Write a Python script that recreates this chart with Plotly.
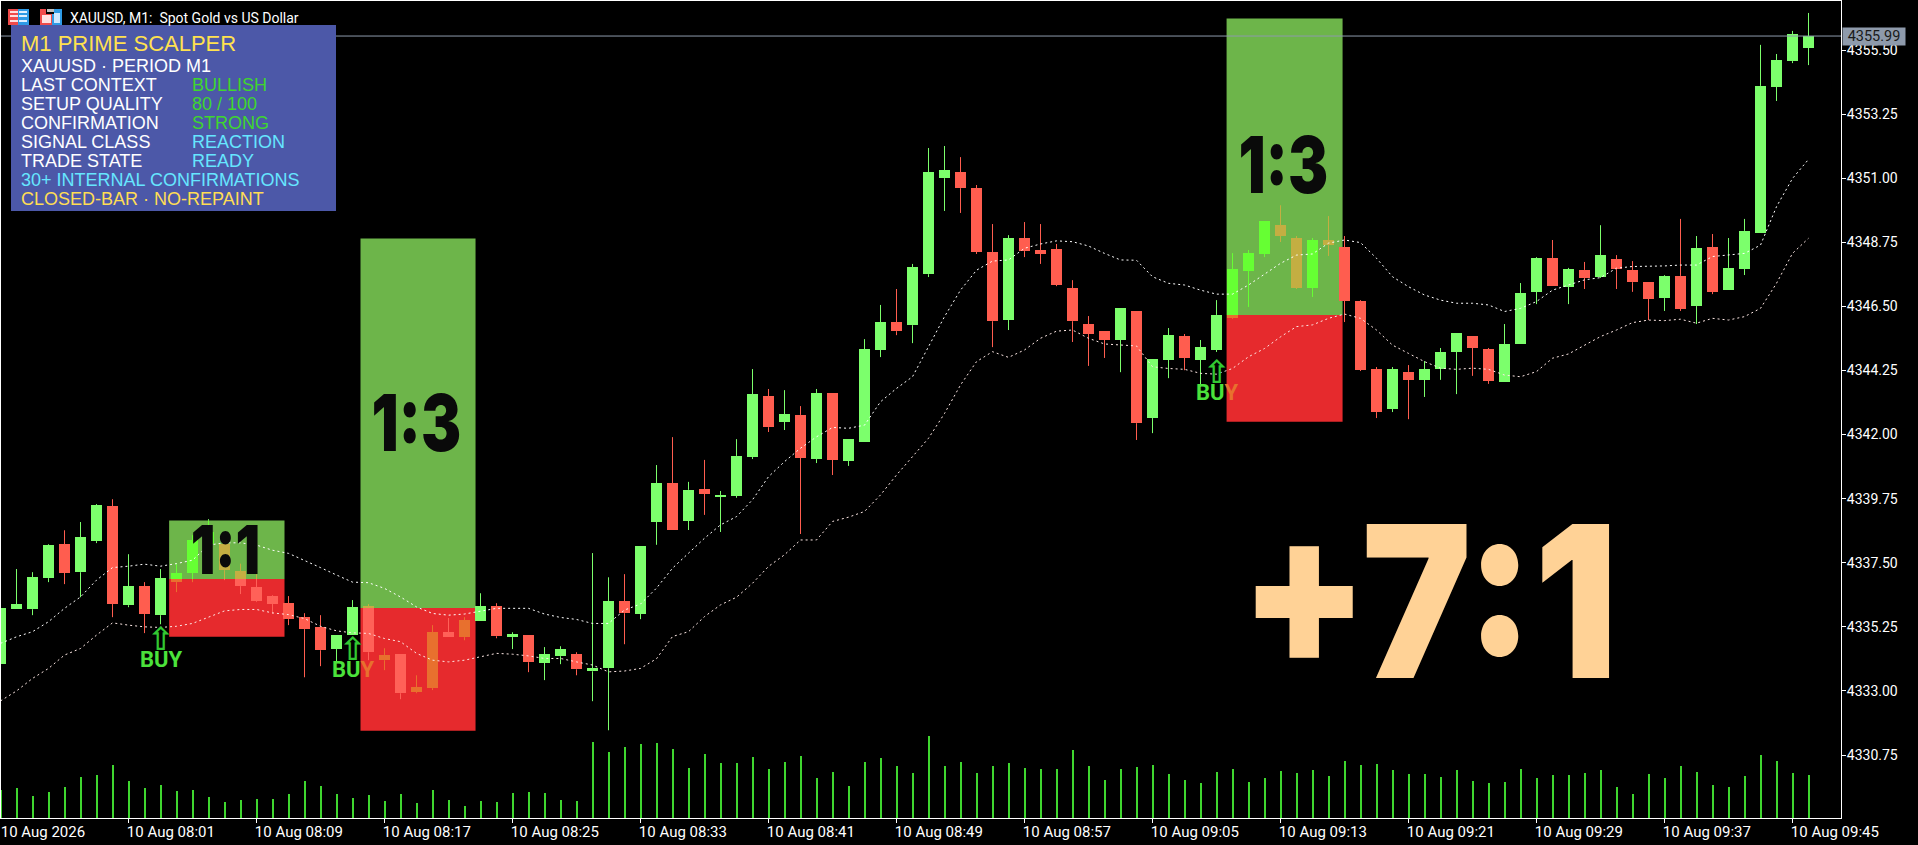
import plotly.graph_objects as go

# ---- data -----------------------------------------------------------------
symbol_title = "XAUUSD, M1:  Spot Gold vs US Dollar"
bar_index = list(range(114))
opens = [4333.94,4335.87,4335.87,4336.96,4338.15,4337.17,4338.26,4339.49,4336.01,4336.68,4335.66,4336.82,4337.14,4338.15,4338.15,4337.21,4336.64,4336.33,4336.08,4335.59,4335.24,4334.47,4334.96,4335.98,4334.08,4334.29,4332.96,4333.10,4335.06,4334.89,4335.45,4335.98,4334.89,4334.96,4333.98,4334.22,4334.29,4333.69,4333.80,4336.15,4335.70,
         4338.93,4340.30,4338.97,4340.09,4339.81,4339.85,4341.21,4343.35,4342.44,4342.69,4341.14,4343.46,4341.07,4341.74,4344.97,4345.95,4345.84,4347.63,4351.00,4351.21,4350.65,4348.41,4346.02,4348.90,4348.48,4348.51,4347.14,4345.88,4345.63,4345.32,4346.34,4342.58,4344.62,4345.46,4344.62,4344.97,4346.09,4347.74,4348.34,
         4349.35,4348.90,4347.15,4348.83,4348.58,4346.69,4344.30,4342.90,4344.20,4343.92,4344.30,4344.90,4345.46,4345.00,4343.85,4345.18,4347.01,4348.20,4347.18,4347.78,4347.53,4348.16,4347.78,4347.35,4346.79,4347.57,4346.51,4348.58,4347.07,4347.81,4349.08,4354.20,4355.11,4355.57]
closes = [4335.91,4336.05,4336.99,4338.12,4337.14,4338.40,4339.52,4336.05,4336.68,4335.70,4336.96,4337.14,4338.29,4338.57,4337.24,4336.68,4336.15,4336.05,4335.52,4335.17,4334.43,4334.96,4335.94,4334.36,4334.26,4332.92,4333.13,4335.06,4334.89,4335.49,4335.98,4334.92,4334.99,4334.01,4334.29,4334.47,4333.76,4333.80,4336.15,4335.73,4338.08,
          4340.30,4338.65,4340.06,4339.92,4339.88,4341.25,4343.42,4342.26,4342.72,4341.18,4343.46,4341.11,4341.84,4345.00,4345.95,4345.63,4347.88,4351.21,4351.28,4350.65,4348.41,4345.98,4348.90,4348.44,4348.34,4347.25,4345.98,4345.53,4345.32,4346.44,4342.40,4344.65,4345.49,4344.69,4345.07,4346.20,4347.81,4348.37,4349.49,
          4348.97,4347.15,4348.83,4348.65,4346.69,4344.27,4342.79,4344.30,4343.92,4344.30,4344.90,4345.57,4345.04,4343.88,4345.18,4346.97,4348.20,4347.22,4347.81,4347.50,4348.30,4347.81,4347.35,4346.76,4347.57,4346.41,4348.55,4347.01,4347.85,4349.15,4354.24,4355.15,4356.06,4355.99]
highs = [4336.00,4337.28,4337.17,4338.15,4338.64,4338.93,4339.56,4339.73,4337.80,4336.82,4337.28,4337.49,4338.47,4339.03,4338.41,4337.47,4337.10,4336.36,4336.33,4335.73,4335.66,4334.96,4336.19,4336.05,4334.50,4334.29,4333.55,4335.31,4335.56,4335.59,4336.43,4336.08,4335.06,4334.96,4334.54,4334.57,4334.36,4337.84,4336.99,4337.10,4338.08,
         4340.93,4341.91,4340.34,4341.11,4340.02,4341.84,4344.30,4343.60,4343.56,4343.00,4343.60,4343.46,4341.84,4345.35,4346.55,4347.11,4347.99,4352.06,4352.13,4351.74,4350.76,4349.39,4349.00,4349.46,4349.39,4348.69,4347.42,4346.16,4345.63,4346.44,4346.34,4344.65,4345.74,4345.53,4345.32,4346.72,4348.37,4348.48,4349.49,
         4350.05,4348.97,4348.90,4349.67,4348.97,4346.72,4344.37,4344.37,4344.44,4344.58,4345.04,4345.57,4345.46,4345.04,4345.88,4347.32,4348.23,4348.83,4347.85,4348.06,4349.35,4348.30,4348.09,4347.35,4347.60,4349.57,4348.97,4349.04,4348.90,4349.57,4355.68,4355.36,4356.17,4356.80]
lows = [4333.80,4335.87,4335.66,4336.82,4336.75,4336.29,4338.19,4335.59,4335.94,4335.03,4335.34,4336.47,4336.82,4338.12,4336.89,4336.40,4336.12,4335.70,4335.31,4333.48,4333.87,4334.01,4334.96,4334.08,4333.73,4332.71,4332.92,4333.03,4334.89,4334.78,4335.45,4334.85,4334.47,4333.66,4333.38,4333.94,4333.55,4332.64,4331.62,4334.64,4335.52,
        4338.13,4338.65,4338.65,4339.18,4338.58,4339.78,4341.14,4342.09,4342.16,4338.51,4341.00,4340.58,4340.90,4341.74,4344.72,4345.49,4345.21,4347.53,4349.85,4349.78,4348.34,4345.07,4345.67,4348.23,4347.99,4347.21,4345.25,4344.41,4344.69,4344.19,4341.81,4342.05,4343.98,4344.26,4343.68,4344.90,4346.06,4346.48,4348.23,
        4348.76,4347.11,4346.83,4348.27,4345.95,4344.23,4342.58,4342.79,4342.54,4343.32,4343.92,4343.42,4344.06,4343.78,4343.85,4345.18,4346.58,4347.22,4346.58,4347.11,4347.50,4347.11,4347.01,4346.02,4346.34,4346.34,4345.88,4346.93,4347.07,4347.60,4349.08,4353.71,4355.04,4354.97]
band_upper = [4334.67,4334.90,4335.08,4335.43,4335.90,4336.30,4336.89,4337.33,4337.38,4337.45,4337.38,4337.47,4337.59,4338.12,4338.20,4338.20,4338.12,4337.94,4337.83,4337.59,4337.33,4337.07,4336.82,4336.80,4336.60,4336.30,4335.95,4335.72,4335.66,4335.70,4335.80,4335.90,4335.90,4335.90,4335.70,4335.58,4335.51,4335.37,4335.37,4335.84,4336.05,
              4336.61,4337.31,4337.83,4338.36,4338.83,4339.12,4339.71,4340.52,4341.05,4341.52,4341.92,4342.25,4342.22,4342.33,4343.15,4343.62,4344.03,4345.08,4346.14,4347.07,4347.77,4348.09,4348.13,4348.54,4348.69,4348.80,4348.77,4348.62,4348.36,4348.13,4348.12,4347.54,4347.31,4347.25,4347.07,4346.93,4346.93,4347.25,4347.63,4348.01,
              4348.30,4348.34,4348.72,4348.83,4348.74,4348.19,4347.54,4347.19,4346.90,4346.72,4346.61,4346.61,4346.55,4346.32,4346.43,4346.67,4347.07,4347.25,4347.43,4347.51,4347.84,4347.90,4347.90,4347.92,4347.95,4347.95,4348.25,4348.30,4348.36,4348.65,4350.00,4350.99,4351.66]
band_lower = [4332.65,4333.00,4333.44,4333.79,4334.26,4334.49,4334.96,4335.39,4335.31,4335.25,4335.23,4335.27,4335.37,4335.60,4335.81,4335.86,4335.86,4335.74,4335.68,4335.54,4335.27,4335.11,4335.04,4335.02,4334.84,4334.73,4334.32,4334.08,4334.02,4334.08,4334.20,4334.32,4334.29,4334.23,4334.14,4334.14,4334.02,4333.91,4333.67,4333.70,4333.79,
              4334.13,4334.91,4335.08,4335.61,4336.02,4336.29,4336.78,4337.37,4337.78,4338.30,4338.30,4338.95,4339.10,4339.30,4339.88,4340.58,4341.22,4341.87,4342.74,4343.74,4344.56,4344.91,4344.71,4344.97,4345.38,4345.63,4345.67,4345.38,4345.18,4345.14,4345.11,4344.38,4344.32,4344.29,4344.15,4344.12,4344.32,4344.73,4345.02,4345.43,
              4345.79,4345.85,4346.08,4346.23,4346.08,4345.67,4345.14,4344.85,4344.56,4344.33,4344.29,4344.33,4344.29,4344.09,4344.03,4344.21,4344.68,4344.83,4345.14,4345.44,4345.67,4345.93,4346.02,4346.00,4346.05,4345.91,4346.08,4346.02,4346.14,4346.43,4347.31,4348.36,4348.89]
volumes = [84,90,66,78,93,123,129,159,111,90,99,81,84,63,48,54,57,57,72,111,96,72,60,69,51,72,45,84,54,36,51,48,75,78,75,54,51,228,198,213,222,
           225,207,150,192,165,165,183,147,168,186,120,138,96,168,180,156,135,246,156,168,135,156,165,150,147,147,204,156,114,147,153,159,132,114,105,138,147,108,120,141,
           135,144,126,171,159,162,144,132,132,123,144,111,105,108,147,120,129,129,135,144,93,72,132,120,156,138,99,93,126,189,171,135,129]

last_price = 4355.99
price_ticks = [4355.50,4353.25,4351.00,4348.75,4346.50,4344.25,4342.00,4339.75,4337.50,4335.25,4333.00,4330.75]
time_tick_bars = [0,8,16,24,32,40,48,56,64,72,80,88,96,104,112]
time_tick_labels = ["10 Aug 2026","10 Aug 08:01","10 Aug 08:09","10 Aug 08:17","10 Aug 08:25","10 Aug 08:33","10 Aug 08:41","10 Aug 08:49","10 Aug 08:57","10 Aug 09:05","10 Aug 09:13","10 Aug 09:21","10 Aug 09:29","10 Aug 09:37","10 Aug 09:45"]

box_left = [10.54,22.50,76.63]
box_right = [17.75,29.69,83.88]
box_top = [4338.98,4348.88,4356.61]
box_entry = [4336.93,4335.91,4346.20]
box_bottom = [4334.90,4331.60,4342.45]
box_label = ["1:1","1:3","1:3"]
box_label_x = [14.06,26.03,80.16]
box_label_y = [4337.99,4342.44,4351.48]
box_label_size = [68,78,78]

signal_bar = [10.0,22.0,76.0]
arrow_price = [4334.84,4334.49,4344.19]
buy_price = [4334.12,4333.77,4343.46]
buy_text = ["BUY","BU<span style='color:#E8702E'>Y</span>","BU<span style='color:#E8702E'>Y</span>"]

panel_rows = [
    ("M1 PRIME SCALPER", None, 43.3, 22, "#FFE14F", None),
    ("XAUUSD · PERIOD M1", None, 65.7, 18, "#FFFFFF", None),
    ("LAST CONTEXT", "BULLISH", 84.7, 18, "#FFFFFF", "#3FD62F"),
    ("SETUP QUALITY", "80 / 100", 103.7, 18, "#FFFFFF", "#3FD62F"),
    ("CONFIRMATION", "STRONG", 122.7, 18, "#FFFFFF", "#3FD62F"),
    ("SIGNAL CLASS", "REACTION", 141.7, 18, "#FFFFFF", "#66E6FF"),
    ("TRADE STATE", "READY", 160.7, 18, "#FFFFFF", "#66E6FF"),
    ("30+ INTERNAL CONFIRMATIONS", None, 179.7, 18, "#66E6FF", None),
    ("CLOSED-BAR · NO-REPAINT", None, 198.7, 18, "#FFDD55", None),
]

# ---- styles ----------------------------------------------------------------
W, H = 1918, 845
L, R, T, B = 1, 77, 1, 27
PW, PH = W - L - R, H - T - B
def px(x): return (x - L) / PW
def py(y): return 1 - (y - T) / PH

COL = {
    ("none", 1): "#7CFF6C", ("none", -1): "#FF5D4F",
    ("green", 1): "#66FF33", ("green", -1): "#C4AE42",
    ("red", 1): "#E8702E", ("red", -1): "#FF6158",
}

def segments(k, lo, hi):
    for l, r, t, m, b in zip(box_left, box_right, box_top, box_entry, box_bottom):
        if l <= k <= r:
            out = []
            for a, c, reg in ((m, t, "green"), (b, m, "red"), (t, 1e9, "none"), (-1e9, b, "none")):
                s, e = max(lo, a), min(hi, c)
                if e > s:
                    out.append((s, e, reg))
            return out
    return [(lo, hi, "none")]

bars = {key: ([], [], []) for key in COL}
wicks = {key: ([], []) for key in COL}
for k, o, h, l, c in zip(bar_index, opens, highs, lows, closes):
    d = 1 if c >= o else -1
    top, bot = max(o, c), min(o, c)
    for s, e, reg in segments(k, bot, top):
        xs, bs, hs = bars[(reg, d)]
        xs.append(k); bs.append(s); hs.append(max(e - s, 0.03))
    for lo, hi in ((top, h), (l, bot)):
        if hi > lo:
            for s, e, reg in segments(k, lo, hi):
                xs, ys = wicks[(reg, d)]
                xs += [k, k, None]; ys += [s, e, None]

fig = go.Figure()
for key, (xs, bs, hs) in bars.items():
    if xs:
        fig.add_trace(go.Bar(x=xs, y=hs, base=bs, width=0.6875, marker=dict(color=COL[key], line=dict(width=0)), showlegend=False, hoverinfo="skip"))
for key, (xs, ys) in wicks.items():
    if xs:
        fig.add_trace(go.Scatter(x=xs, y=ys, mode="lines", line=dict(color=COL[key], width=1), connectgaps=False, showlegend=False, hoverinfo="skip"))
fig.add_trace(go.Scatter(x=bar_index, y=band_upper, mode="lines", line=dict(color="#FFFFFF", width=1, dash="2px,3px"), showlegend=False, hoverinfo="skip"))
fig.add_trace(go.Scatter(x=bar_index, y=band_lower, mode="lines", line=dict(color="#FFE9E6", width=1, dash="2px,3px"), showlegend=False, hoverinfo="skip"))
fig.add_trace(go.Scatter(x=[-1, 116], y=[last_price, last_price], mode="lines", line=dict(color="#8E9AAB", width=1), showlegend=False, hoverinfo="skip"))
fig.add_trace(go.Bar(x=bar_index, y=volumes, width=0.125, yaxis="y2", marker=dict(color="#3FD62F", line=dict(width=0)), showlegend=False, hoverinfo="skip"))

shapes = []
for l, r, t, m, b in zip(box_left, box_right, box_top, box_entry, box_bottom):
    shapes.append(dict(type="rect", layer="below", xref="x", yref="y", x0=l, x1=r, y0=m, y1=t, fillcolor="#6DB54A", line=dict(width=0)))
    shapes.append(dict(type="rect", layer="below", xref="x", yref="y", x0=l, x1=r, y0=b, y1=m, fillcolor="#E62A2D", line=dict(width=0)))
shapes.append(dict(type="rect", layer="above", xref="paper", yref="paper", x0=px(11), x1=px(336), y0=py(211), y1=py(25), fillcolor="#4C58A8", line=dict(width=0)))

def icon(x0, y0, x1, y1, c):
    shapes.append(dict(type="rect", layer="above", xref="paper", yref="paper", x0=px(x0), x1=px(x1), y0=py(y1), y1=py(y0), fillcolor=c, line=dict(width=0)))
icon(8, 9, 18, 25, "#F04B4B"); icon(18, 9, 29, 25, "#2E9BE6")
for yy in (11, 15, 20):
    icon(10, yy, 18, yy + 2, "#FFE0E0"); icon(19, yy, 27, yy + 2, "#E0F0FF")
icon(40, 9, 52, 25, "#F04B4B"); icon(52, 9, 62, 25, "#2E9BE6")
icon(42, 15, 51, 23, "#FFE0E0"); icon(54, 13, 60, 23, "#CFE8FF")
icon(46, 8, 54, 14, "#000000"); icon(47, 9, 54, 12, "#BFBFBF")

ann = []
def label(x, y, text, size, color, family="Liberation Sans", xanchor="left", weight=None, xref="paper", yref="paper"):
    ann.append(dict(x=x, y=y, xref=xref, yref=yref, text=text, showarrow=False, xanchor=xanchor, yanchor="middle",
                    font=dict(family=family, size=size, color=color, weight=weight), borderpad=0))

label(px(69), py(17.7), symbol_title, 14, "#FFFFFF", family="Roboto")
for left, right, y, size, c1, c2 in panel_rows:
    label(px(20), py(y), left, size, c1)
    if right:
        label(px(191), py(y), right, size, c2)
for x, y, t, s in zip(box_label_x, box_label_y, box_label, box_label_size):
    label(x, y, t, s, "#0A0A0A", family="Inter", xanchor="center", weight=900, xref="x", yref="y")
for k, a, b, t in zip(signal_bar, arrow_price, buy_price, buy_text):
    label(k, a, "⇧", 32, "#32C832", family="DejaVu Sans", xanchor="center", weight=700, xref="x", yref="y")
    label(k + 0.08, b, t, 22, "#4BE33B", family="Roboto", xanchor="center", weight=700, xref="x", yref="y")
label(px(1429), py(601), "+7:1", 212, "#FFD296", family="Inter", xanchor="center", weight=900)
ann.append(dict(x=1.0, y=last_price, xref="paper", yref="y", xanchor="left", yanchor="middle", xshift=1, text=f"{last_price:.2f}", showarrow=False,
                width=62, height=17, align="center",
                font=dict(family="Roboto", size=14.5, color="#1A1A1A"), bgcolor="#8E9AAB", borderpad=0))

fig.update_layout(
    width=W, height=H, margin=dict(l=L, r=R, t=T, b=B, pad=0),
    paper_bgcolor="#000000", plot_bgcolor="#000000", barmode="overlay", bargap=0,
    showlegend=False, shapes=shapes, annotations=ann,
    xaxis=dict(range=[0.03125, 115.03125], tickmode="array",
               tickvals=[k + 2.65 for k in time_tick_bars], ticktext=time_tick_labels, ticklen=0, ticks="",
               minor=dict(tickmode="array", tickvals=time_tick_bars, ticks="outside", ticklen=4, tickcolor="#FFFFFF", tickwidth=1, showgrid=False),
               tickfont=dict(family="Roboto", size=15, color="#FFFFFF"), showgrid=False, zeroline=False,
               showline=True, linecolor="#FFFFFF", linewidth=1, mirror=True, tickangle=0),
    yaxis=dict(range=[4328.54, 4357.22], side="right", tickmode="array", tickvals=price_ticks,
               ticktext=[f"{v:.2f}" for v in price_ticks], ticks="outside", ticklen=4, tickcolor="#FFFFFF", tickwidth=1,
               ticklabelstandoff=-2,
               tickfont=dict(family="Roboto", size=14, color="#FFFFFF"), showgrid=False, zeroline=False,
               showline=True, linecolor="#FFFFFF", linewidth=1, mirror=True),
    yaxis2=dict(overlaying="y", range=[0, 2451], visible=False, showgrid=False, zeroline=False),
)
# the reference's big ratio lettering is a condensed heavy face: narrow Inter Black around its centre
post = """
document.body.style.margin='0';document.body.style.overflow='hidden';document.body.style.background='#000';
var squeeze={'1:3':0.77,'1:1':0.8,'+7:1':0.87};
document.querySelectorAll('text.annotation-text').forEach(function(t){
  var s=squeeze[t.getAttribute('data-unformatted')];
  if(!s) return;
  var b=t.getBBox(),c=b.x+b.width/2;
  t.setAttribute('transform','translate('+c+' 0) scale('+s+' 1) translate('+(-c)+' 0)');
});
"""
fig.write_html("out.html", config={"displayModeBar": False}, post_script=post)
